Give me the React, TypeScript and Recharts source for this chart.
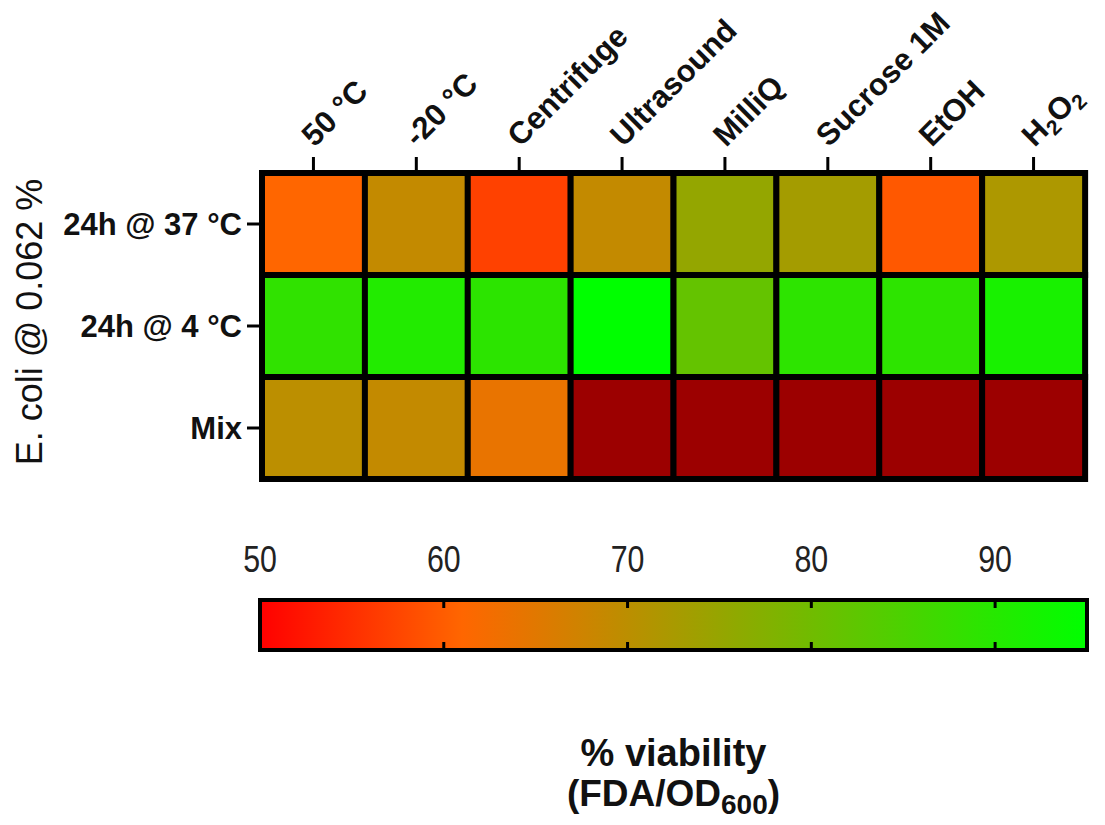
import React from 'react';
import { BarChart, Bar, XAxis, YAxis, Cell, ReferenceLine, Label } from 'recharts';

// treatments (columns) and storage conditions (rows, top to bottom)
const treatments = ['50 °C', '-20 °C', 'Centrifuge', 'Ultrasound', 'MilliQ', 'Sucrose 1M', 'EtOH', 'H2O2'];
const conditions = ['24h @ 37 °C', '24h @ 4 °C', 'Mix'];

// % viability per treatment
const viability37C = [61, 69, 57, 69, 75.3, 73.1, 59.5, 72];
const viability4C = [88.6, 90.5, 89.1, 95, 81.7, 89, 89, 91.8];
const viabilityMix = [70, 69, 64, 45, 44, 46, 43, 45];

// colour scale
const scaleTicks = [50, 60, 70, 80, 90];
const scaleRange = [50, 95];
const colorStops = [
  { value: 50, rgb: [255, 0, 0] },
  { value: 61, rgb: [255, 102, 0] },
  { value: 95, rgb: [0, 255, 0] },
];
const BELOW_RANGE = '#9c0000';

const FONT = "'Liberation Sans', Arial, Helvetica, sans-serif";

const toHex = (rgb: number[]) =>
  '#' + rgb.map((c) => Math.round(c).toString(16).padStart(2, '0')).join('');

function colorFor(v: number) {
  if (v < colorStops[0].value) return BELOW_RANGE;
  for (let i = 1; i < colorStops.length; i++) {
    const a = colorStops[i - 1];
    const b = colorStops[i];
    if (v <= b.value) {
      const t = (v - a.value) / (b.value - a.value);
      return toHex(a.rgb.map((c, k) => c + (b.rgb[k] - c) * t));
    }
  }
  return toHex(colorStops[colorStops.length - 1].rgb);
}

// each cell is one unit tall in the stack
const heatData = treatments.map((name) => ({ name, mix: 1, cold: 1, warm: 1 }));
const scaleData = [{ name: 'viability', range: scaleRange }];

function TreatmentTick(props: any) {
  const { x, y, payload } = props;
  const label: string = payload.value;
  const content =
    label === 'H2O2' ? (
      <>
        H<tspan fontSize={21} dy={6}>2</tspan>
        <tspan dy={-6}>O</tspan>
        <tspan fontSize={21} dy={6}>2</tspan>
      </>
    ) : (
      label
    );
  return (
    <g transform={`translate(${x + 1},${y - 7})`}>
      <text
        transform="rotate(-45)"
        textAnchor="start"
        fontSize={31}
        fontWeight="bold"
        fontFamily={FONT}
        fill="#111"
      >
        {content}
      </text>
    </g>
  );
}

// light, condensed numbers above the colour bar
function ScaleTick(props: any) {
  const { x, y, payload } = props;
  return (
    <text
      transform={`translate(${x},${y}) scale(0.82,1)`}
      textAnchor="middle"
      fontSize={37}
      fontFamily={FONT}
      fill="#222"
    >
      {payload.value}
    </text>
  );
}

const renderYTitle = (props: any) => {
  const { viewBox } = props;
  const cx = viewBox.x + 29;
  const cy = viewBox.y + viewBox.height / 2 - 4;
  return (
    <text
      x={cx}
      y={cy}
      transform={`rotate(-90 ${cx} ${cy})`}
      textAnchor="middle"
      dominantBaseline="central"
      fontSize={36}
      fontFamily={FONT}
      fill="#111"
    >
      E. coli @ 0.062 %
    </text>
  );
};

const renderScaleTitle = (props: any) => {
  const { viewBox } = props;
  const cx = viewBox.x + viewBox.width / 2;
  return (
    <g fontFamily={FONT} fontWeight="bold" fill="#111" textAnchor="middle">
      <text x={cx} y={viewBox.y + 116} fontSize={38}>
        % viability
      </text>
      <text x={cx} y={viewBox.y + 156} fontSize={37}>
        (FDA/OD<tspan fontSize={28} dy={8}>600</tspan>
        <tspan dy={-8}>)</tspan>
      </text>
    </g>
  );
};

const scaleTickMark = (props: any) => {
  const { x1, y1, y2 } = props;
  const top = Math.min(y1, y2);
  const bottom = Math.max(y1, y2);
  return (
    <g stroke="#000" strokeWidth={3}>
      <line x1={x1} x2={x1} y1={top} y2={top + 8} />
      <line x1={x1} x2={x1} y1={bottom - 8} y2={bottom} />
    </g>
  );
};

export default function App() {
  return (
    <div style={{ position: 'absolute', left: 0, top: 0, width: 1105, height: 825, background: '#fff' }}>
      {/* Heatmap */}
      <div style={{ position: 'absolute', left: 0, top: 0 }}>
        <BarChart
          width={1105}
          height={500}
          data={heatData}
          barCategoryGap={0}
          barGap={0}
          margin={{ top: 0, right: 20, bottom: 21, left: 0 }}
        >
          <XAxis
            dataKey="name"
            orientation="top"
            height={173}
            interval={0}
            axisLine={false}
            tickSize={16}
            tickLine={{ stroke: '#000', strokeWidth: 3 }}
            tick={<TreatmentTick />}
          />
          <YAxis
            type="number"
            domain={[0, 3]}
            ticks={[0.5, 1.5, 2.5]}
            interval={0}
            width={262}
            axisLine={false}
            tickSize={15}
            tickMargin={5}
            tickLine={{ stroke: '#000', strokeWidth: 3 }}
            tickFormatter={(v: number) => conditions[Math.round(2.5 - v)]}
            tick={{ fontSize: 31, fontWeight: 'bold', fontFamily: FONT, fill: '#111' }}
          >
            <Label content={renderYTitle} />
          </YAxis>
          <Bar dataKey="mix" stackId="a" stroke="#000" strokeWidth={6} isAnimationActive={false}>
            {viabilityMix.map((v, i) => (
              <Cell key={`mix-${i}`} fill={colorFor(v)} />
            ))}
          </Bar>
          <Bar dataKey="cold" stackId="a" stroke="#000" strokeWidth={6} isAnimationActive={false}>
            {viability4C.map((v, i) => (
              <Cell key={`cold-${i}`} fill={colorFor(v)} />
            ))}
          </Bar>
          <Bar dataKey="warm" stackId="a" stroke="#000" strokeWidth={6} isAnimationActive={false}>
            {viability37C.map((v, i) => (
              <Cell key={`warm-${i}`} fill={colorFor(v)} />
            ))}
          </Bar>
        </BarChart>
      </div>

      {/* Colour scale */}
      <div style={{ position: 'absolute', left: 0, top: 520 }}>
        <BarChart
          width={1105}
          height={305}
          data={scaleData}
          layout="vertical"
          barCategoryGap={0}
          margin={{ top: 0, right: 18, bottom: 10, left: 260 }}
        >
          <defs>
            <linearGradient id="viabilityScale" x1="0" y1="0" x2="1" y2="0">
              {colorStops.map((s) => (
                <stop
                  key={s.value}
                  offset={`${((s.value - scaleRange[0]) / (scaleRange[1] - scaleRange[0])) * 100}%`}
                  stopColor={toHex(s.rgb)}
                />
              ))}
            </linearGradient>
          </defs>
          <XAxis
            type="number"
            orientation="top"
            domain={scaleRange}
            ticks={scaleTicks}
            interval={0}
            height={80}
            axisLine={false}
            tickLine={false}
            tickSize={0}
            tickMargin={28}
            tick={<ScaleTick />}
          />
          <XAxis
            xAxisId="title"
            type="number"
            orientation="bottom"
            domain={scaleRange}
            height={165}
            tick={false}
            axisLine={false}
            tickLine={false}
          >
            <Label content={renderScaleTitle} />
          </XAxis>
          <YAxis type="category" dataKey="name" hide />
          <Bar
            dataKey="range"
            fill="url(#viabilityScale)"
            stroke="#000"
            strokeWidth={4}
            isAnimationActive={false}
          />
          {scaleTicks.slice(1).map((t) => (
            <ReferenceLine key={t} x={t} shape={scaleTickMark} />
          ))}
        </BarChart>
      </div>
    </div>
  );
}
